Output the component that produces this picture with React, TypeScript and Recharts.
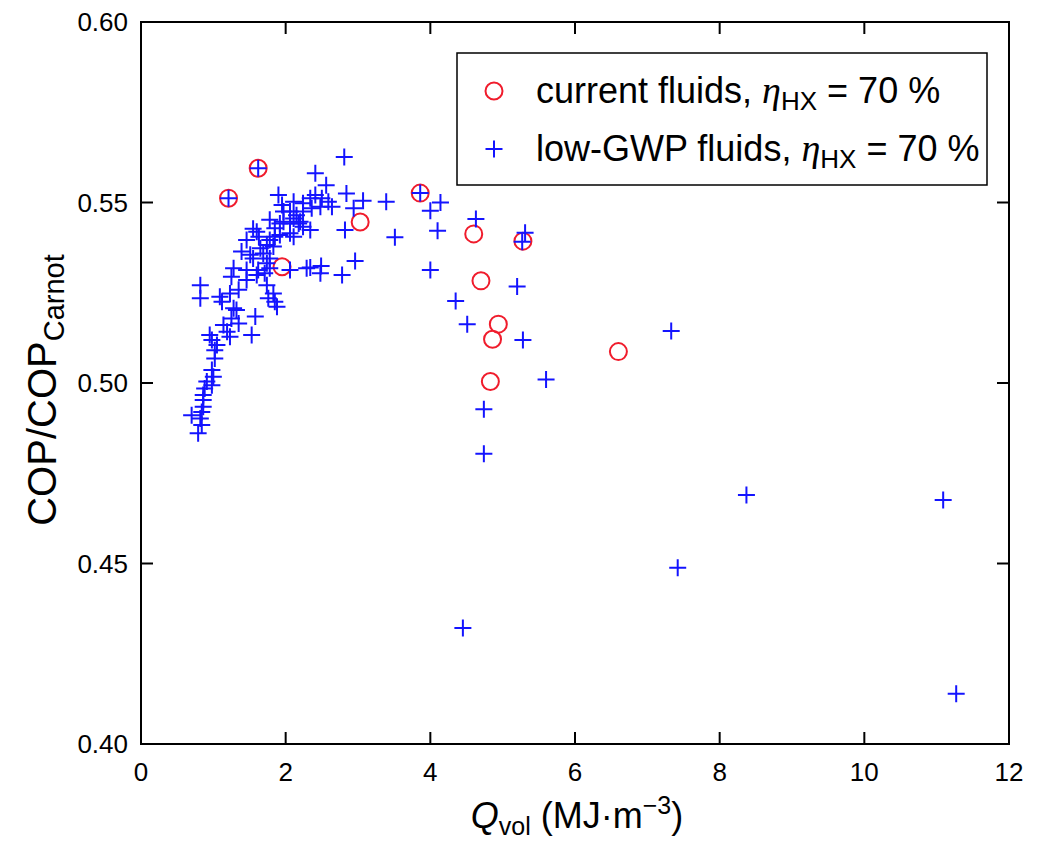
import React from "react"
import { ScatterChart, Scatter, XAxis, YAxis, ReferenceArea, Legend } from "recharts"

// current fluids (red rings)
const currentQ = [1.21, 1.62, 1.95, 3.03, 3.86, 4.60, 4.70, 4.94, 4.86, 4.83, 5.28, 6.60]
const currentCop = [0.5512, 0.5595, 0.5322, 0.5446, 0.5526, 0.5413, 0.5283, 0.5163, 0.5121, 0.5004, 0.5393, 0.5087]

// low-GWP fluids (blue crosses)
const lowQ = [
  0.79, 0.84, 0.82, 0.70, 0.84, 0.86, 0.86, 0.86, 0.88, 0.98, 0.91, 1.00, 0.98, 1.02, 1.02, 1.05,
  0.98, 0.95, 1.23, 1.19, 1.14, 1.35, 1.25, 1.32, 1.53, 1.58,
  0.82, 0.82, 1.09, 1.12, 1.23, 1.25, 1.35, 1.46, 1.60, 1.71, 1.74, 1.83, 1.85, 1.88, 1.28, 1.28,
  1.46, 1.62, 1.78, 2.06, 2.29, 1.76,
  1.60, 1.55, 1.63, 1.46, 1.74, 1.65, 1.39, 1.51, 1.78, 1.55, 1.74, 1.69, 1.83, 1.78, 1.92, 2.06,
  1.85, 2.11, 1.78, 1.85, 1.97, 2.11, 2.18, 2.24, 2.34, 2.20, 1.90, 1.95, 1.97, 2.11, 2.24, 2.34,
  2.41, 2.50, 2.59, 2.64, 2.48, 2.36, 2.24, 2.15, 2.06, 2.06, 1.92, 2.41, 2.56, 2.81, 2.84, 3.07,
  2.94, 2.82, 2.96, 2.78, 2.49, 2.34, 2.48,
  3.39, 3.86, 4.00, 4.14, 3.51, 4.10, 4.63, 4.00, 5.31, 5.27, 5.20, 4.35, 4.51, 5.28, 5.60, 4.74,
  4.74, 7.33, 8.37, 7.42, 4.45, 11.09, 11.27, 1.21, 1.62,
]
const lowCop = [
  0.4861, 0.4884, 0.4902, 0.4911, 0.4920, 0.4934, 0.4953, 0.4967, 0.4985, 0.4994, 0.5004, 0.5017, 0.5036, 0.5068, 0.5091, 0.5105,
  0.5119, 0.5133, 0.5128, 0.5142, 0.5161, 0.5165, 0.5179, 0.5202, 0.5133, 0.5184,
  0.5271, 0.5235, 0.5239, 0.5225, 0.5248, 0.5294, 0.5258, 0.5285, 0.5299, 0.5304, 0.5271, 0.5248, 0.5225, 0.5211, 0.5207, 0.5318,
  0.5313, 0.5313, 0.5318, 0.5313, 0.5318, 0.5235,
  0.5419, 0.5427, 0.5405, 0.5396, 0.5382, 0.5373, 0.5364, 0.5355, 0.5345, 0.5345, 0.5332, 0.5359, 0.5378, 0.5396, 0.5410, 0.5415,
  0.5405, 0.5405, 0.5452, 0.5429, 0.5447, 0.5456, 0.5442, 0.5433, 0.5424, 0.5447, 0.5521, 0.5493, 0.5475, 0.5502, 0.5498, 0.5512,
  0.5521, 0.5512, 0.5502, 0.5488, 0.5488, 0.5484, 0.5475, 0.5465, 0.5475, 0.5442, 0.5442, 0.5581, 0.5548, 0.5626, 0.5525, 0.5505,
  0.5484, 0.5424, 0.5338, 0.5299, 0.5324, 0.5320, 0.5304,
  0.5502, 0.5526, 0.5477, 0.5500, 0.5404, 0.5422, 0.5454, 0.5313, 0.5416, 0.5391, 0.5267, 0.5227, 0.5163, 0.5119, 0.5010, 0.4927,
  0.4804, 0.5144, 0.4690, 0.4488, 0.4321, 0.4676, 0.4139, 0.5512, 0.5595,
]

const xTicks = [0, 2, 4, 6, 8, 10, 12]
const yTicks = [0.4, 0.45, 0.5, 0.55, 0.6]

const FONT = "'Liberation Sans', Arial, Helvetica, sans-serif"
const RED = "#f01c2c"
const BLUE = "#1414ff"
const TOP = 22
const RIGHT = 1009

const currentData = currentQ.map((q, i) => ({ q, cop: currentCop[i] }))
const lowData = lowQ.map((q, i) => ({ q, cop: lowCop[i] }))

const Ring = (props: any) => (
  <circle cx={props.cx} cy={props.cy} r={8.5} fill="none" stroke={RED} strokeWidth={2} />
)

const Plus = (props: any) => {
  const { cx, cy } = props
  return (
    <path d={`M${cx - 8.5},${cy}H${cx + 8.5}M${cx},${cy - 8.5}V${cy + 8.5}`} stroke={BLUE} strokeWidth={2} fill="none" />
  )
}

// ticks point inward, on all four sides
const XTick = ({ x, y, payload }: any) => (
  <g>
    <line x1={x} x2={x} y1={y} y2={y - 12} stroke="#000" strokeWidth={2} />
    <line x1={x} x2={x} y1={TOP} y2={TOP + 12} stroke="#000" strokeWidth={2} />
    <text x={x} y={y + 37} textAnchor="middle" fontSize={26} fontFamily={FONT} fill="#000">
      {payload.value}
    </text>
  </g>
)

const YTick = ({ x, y, payload }: any) => (
  <g>
    <line x1={x} x2={x + 12} y1={y} y2={y} stroke="#000" strokeWidth={2} />
    <line x1={RIGHT} x2={RIGHT - 12} y1={y} y2={y} stroke="#000" strokeWidth={2} />
    <text x={x - 13} y={y + 9} textAnchor="end" fontSize={26} fontFamily={FONT} fill="#000">
      {payload.value.toFixed(2)}
    </text>
  </g>
)

const XLabel = ({ viewBox }: any) => (
  <text x={viewBox.x + viewBox.width / 2 + 2} y={viewBox.y + 84} textAnchor="middle" fontSize={36} fontFamily={FONT} fill="#000">
    <tspan fontStyle="italic">Q</tspan>
    <tspan fontSize={25} dy={7}>vol</tspan>
    <tspan dy={-7}> (MJ·m</tspan>
    <tspan fontSize={25} dy={-14}>−3</tspan>
    <tspan dy={14}>)</tspan>
  </text>
)

const YLabel = ({ viewBox }: any) => {
  const cx = viewBox.x + 56
  const cy = viewBox.y + viewBox.height / 2 + 7
  return (
    <text x={cx} y={cy} transform={`rotate(-90 ${cx} ${cy})`} textAnchor="middle" fontSize={40} fontFamily={FONT} fill="#000">
      COP/COP
      <tspan fontSize={29} dy={8}>Carnot</tspan>
    </text>
  )
}

const Eta = ({ label }: { label: string }) => (
  <>
    <tspan>{label}, </tspan>
    <tspan fontFamily="'Liberation Serif', serif" fontStyle="italic" fontSize={38}>η</tspan>
    <tspan fontSize={26} dy={7}>HX</tspan>
    <tspan dy={-7}> = 70 %</tspan>
  </>
)

const LegendBox = () => (
  <svg width={533} height={135}>
    <rect x={1} y={1} width={530} height={132} fill="#fff" stroke="#000" strokeWidth={1.5} />
    <Ring cx={38} cy={39} />
    <text x={80} y={51} fontSize={36} fontFamily={FONT} fill="#000">
      <Eta label="current fluids" />
    </text>
    <Plus cx={38} cy={97} />
    <text x={80} y={109} fontSize={36} fontFamily={FONT} fill="#000">
      <Eta label="low-GWP fluids" />
    </text>
  </svg>
)

export default function App() {
  return (
    <div style={{ position: "absolute", left: 0, top: 0, background: "#fff" }}>
      <ScatterChart width={1038} height={843} margin={{ top: TOP, right: 1038 - RIGHT, bottom: 0, left: 0 }}>
        <XAxis
          type="number"
          dataKey="q"
          domain={[0, 12]}
          ticks={xTicks}
          interval={0}
          height={99}
          tickSize={0}
          tickMargin={0}
          tickLine={false}
          axisLine={false}
          tick={XTick}
          label={<XLabel />}
        />
        <YAxis
          type="number"
          dataKey="cop"
          domain={[0.4, 0.6]}
          ticks={yTicks}
          interval={0}
          width={141}
          tickSize={0}
          tickMargin={0}
          tickLine={false}
          axisLine={false}
          tick={YTick}
          label={<YLabel />}
        />
        <Scatter name="current fluids" data={currentData} shape={Ring} isAnimationActive={false} />
        <Scatter name="low-GWP fluids" data={lowData} shape={Plus} isAnimationActive={false} />
        <ReferenceArea x1={0} x2={12} y1={0.4} y2={0.6} fill="none" stroke="#000" strokeWidth={2} ifOverflow="visible" />
        <Legend
          layout="horizontal"
          verticalAlign="middle"
          align="center"
          wrapperStyle={{ left: 456, top: 52, width: 533, height: 135 }}
          content={() => <LegendBox />}
        />
      </ScatterChart>
    </div>
  )
}
